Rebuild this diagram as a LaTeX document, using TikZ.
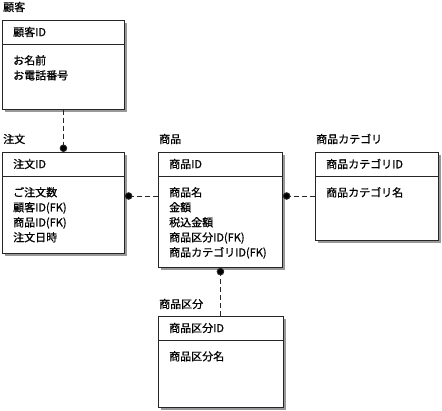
\documentclass[tikz,border=0pt]{standalone}
\usepackage{fontspec}
\newfontfamily\jp[FakeBold=0.7]{Noto Sans CJK JP}
\usetikzlibrary{positioning,shadows,arrows.meta}

\tikzset{
  entity/.style={draw=black!85, line width=0.9pt, fill=white, anchor=north west, inner sep=0pt,
    drop shadow={shadow xshift=3pt, shadow yshift=-3pt, fill=black!40, opacity=1}},
  title/.style={anchor=west, inner sep=0pt, font=\jp\fontsize{11}{15}\selectfont},
  keyname/.style={anchor=west, inner sep=0pt, font=\jp\fontsize{11}{15}\selectfont},
  attrs/.style={anchor=north west, inner sep=0pt, align=left, font=\jp\fontsize{11}{15}\selectfont},
  rel/.style={draw=black!85, line width=0.9pt, dash pattern=on 5pt off 3pt, -{Circle[length=7.5pt,fill=black]}}
}

\begin{document}
\begin{tikzpicture}[x=1pt,y=-1pt]
            \useasboundingbox (0,0) rectangle (442,411);
            % entities
            \node[entity, minimum width=122pt, minimum height=89pt] (kokyaku) at (2,20) {};
            \node[entity, minimum width=122pt, minimum height=101pt] (chumon) at (2,152) {};
            \node[entity, minimum width=124pt, minimum height=115pt] (shohin) at (158,152) {};
            \node[entity, minimum width=123pt, minimum height=88pt] (category) at (315,152) {};
            \node[entity, minimum width=125pt, minimum height=91pt] (kubun) at (158,316) {};
            \foreach \e in {kokyaku,chumon,shohin,category,kubun}
              \draw [black!85, line width=0.9pt]([yshift=-24pt]\e.north west)--([yshift=-24pt]\e.north east);
            % titles
            \node[title] (kokyakuT) at ([shift={(1,-13)}]kokyaku.north west) {顧客};
            \node[title] (chumonT) at ([shift={(1,-13)}]chumon.north west) {注文};
            \node[title] (shohinT) at ([shift={(1,-13)}]shohin.north west) {商品};
            \node[title] (categoryT) at ([shift={(1,-13)}]category.north west) {商品カテゴリ};
            \node[title] (kubunT) at ([shift={(1,-12)}]kubun.north west) {商品区分};
            % keys
            \node[keyname] (kokyakuK) at ([shift={(11,12)}]kokyaku.north west) {顧客ID};
            \node[keyname] (chumonK) at ([shift={(11,12)}]chumon.north west) {注文ID};
            \node[keyname] (shohinK) at ([shift={(11,12)}]shohin.north west) {商品ID};
            \node[keyname] (categoryK) at ([shift={(11,12)}]category.north west) {商品カテゴリID};
            \node[keyname] (kubunK) at ([shift={(11,12)}]kubun.north west) {商品区分ID};
            % attributes
            \node[attrs] (kokyakuA) at ([shift={(11,35)}]kokyaku.north west) {お名前\\お電話番号};
            \node[attrs] (chumonA) at ([shift={(11,35)}]chumon.north west) {ご注文数\\顧客ID(FK)\\商品ID(FK)\\注文日時};
            \node[attrs] (shohinA) at ([shift={(11,35)}]shohin.north west) {商品名\\金額\\税込金額\\商品区分ID(FK)\\商品カテゴリID(FK)};
            \node[attrs] (categoryA) at ([shift={(11,35)}]category.north west) {商品カテゴリ名};
            \node[attrs] (kubunA) at ([shift={(11,35)}]kubun.north west) {商品区分名};
            % relations
            \draw [rel](kokyaku.south)--(chumon.north -| kokyaku.south);
            \draw [rel]([yshift=-44pt]shohin.north west)--([yshift=-44pt]chumon.north east);
            \draw [rel]([yshift=-44pt]category.north west)--([yshift=-44pt]shohin.north east);
            \draw [rel](kubun.north -| shohin.south)--(shohin.south);
\end{tikzpicture}
\end{document}
